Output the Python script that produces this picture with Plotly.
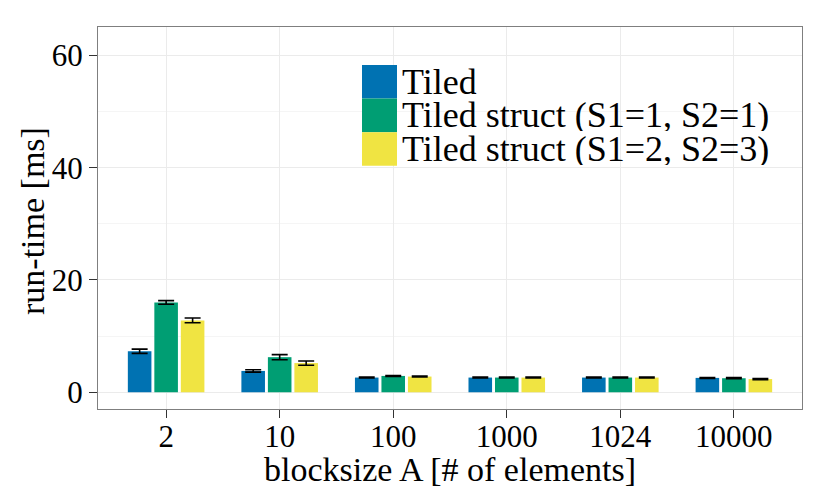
import plotly.graph_objects as go

categories = ["2", "10", "100", "1000", "1024", "10000"]
series_names = ["Tiled", "Tiled struct (S1=1, S2=1)", "Tiled struct (S1=2, S2=3)"]
tiled = [7.3, 3.8, 2.62, 2.62, 2.62, 2.56]
struct11 = [16.0, 6.25, 2.91, 2.62, 2.62, 2.5]
struct23 = [12.8, 5.2, 2.8, 2.62, 2.62, 2.35]
err_tiled = [0.38, 0.22, 0.08, 0.08, 0.08, 0.08]
err_struct11 = [0.33, 0.45, 0.08, 0.08, 0.08, 0.1]
err_struct23 = [0.42, 0.38, 0.08, 0.08, 0.08, 0.1]
colors = ["#0072B2", "#009E73", "#F0E442"]
y_ticks = [0, 20, 40, 60]
x_title = "blocksize A [# of elements]"
y_title = "run-time [ms]"

FONT = "Liberation Serif"

fig = go.Figure()
for name, vals, errs, col in zip(series_names, [tiled, struct11, struct23],
                                 [err_tiled, err_struct11, err_struct23], colors):
    fig.add_trace(go.Bar(
        x=categories, y=vals, name=name, marker_color=col,
        marker_line_width=0,
        error_y=dict(type="data", array=errs, visible=True, color="black",
                     thickness=1.6, width=8),
        showlegend=False,
    ))

# custom legend with large keys
px_w, px_h = 704, 382
key_x0, key_x1 = 362, 397
key_top = 65
key_h = 33.6
for i, (name, col) in enumerate(zip(series_names, colors)):
    y0 = key_top + i * key_h
    y1 = y0 + key_h
    fig.add_shape(type="rect", xref="paper", yref="paper",
                  x0=(key_x0 - 98) / px_w, x1=(key_x1 - 98) / px_w,
                  y0=(409 - y1) / px_h, y1=(409 - y0) / px_h,
                  fillcolor=col, line_width=0)
    fig.add_annotation(xref="paper", yref="paper",
                       x=(400 - 98) / px_w, y=(409 - (y0 + y1) / 2) / px_h,
                       text=name, showarrow=False, xanchor="left", yanchor="middle",
                       height=32, valign="middle",
                       font=dict(family=FONT, size=36, color="black"))

# axis titles
fig.add_annotation(xref="paper", yref="paper", x=0.5, y=(409 - 470) / px_h,
                   text=x_title, showarrow=False, xanchor="center", yanchor="middle",
                   font=dict(family=FONT, size=34, color="black"))
fig.add_annotation(xref="paper", yref="paper", x=(32 - 98) / px_w, y=(409 - 221) / px_h,
                   text=y_title, showarrow=False, xanchor="center", yanchor="middle",
                   textangle=-90, font=dict(family=FONT, size=34, color="black"))

fig.update_layout(
    width=830, height=498,
    margin=dict(l=98, r=28, t=27, b=89),
    paper_bgcolor="white", plot_bgcolor="white",
    bargap=0.30, bargroupgap=0.11, barmode="group",
    font=dict(family=FONT, size=31, color="black"),
)
fig.update_xaxes(
    type="category", range=[-0.6, 5.6], automargin=False,
    showgrid=True, gridcolor="#EBEBEB", gridwidth=1,
    ticks="outside", ticklen=8, tickwidth=1.2, tickcolor="#333333",
    ticklabelstandoff=-8,
    tickfont=dict(family=FONT, size=31, color="black"),
    showline=True, linecolor="#7F7F7F", linewidth=1.2, mirror=True,
)
fig.update_yaxes(
    range=[-2.98, 65.06], tickvals=y_ticks, automargin=False,
    showgrid=True, gridcolor="#EBEBEB", gridwidth=1,
    minor=dict(tickvals=[10, 30, 50], showgrid=True, gridcolor="#F5F5F5", gridwidth=1),
    zeroline=False,
    ticks="outside", ticklen=8, tickwidth=1.2, tickcolor="#333333",
    tickfont=dict(family=FONT, size=31, color="black"),
    showline=True, linecolor="#7F7F7F", linewidth=1.2, mirror=True,
)

fig.write_html("out.html", config={"displayModeBar": False},
               post_script="document.body.style.margin='0';document.body.style.padding='0';")
